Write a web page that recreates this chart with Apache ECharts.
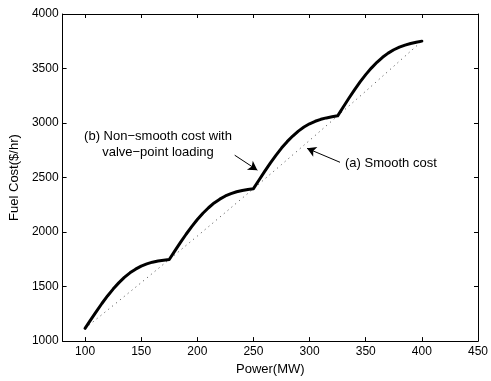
<!DOCTYPE html>
<html>
<head>
<meta charset="utf-8">
<script src="https://cdn.jsdelivr.net/npm/echarts@6/dist/echarts.min.js"></script>
<style>
html,body{margin:0;padding:0;background:#fff;}
#c{width:491px;height:381px;}
</style>
</head>
<body>
<div id="c"></div>
<script>
var xTicks = [100, 150, 200, 250, 300, 350, 400, 450];
var yTicks = [1000, 1500, 2000, 2500, 3000, 3500, 4000];

var powerNS = [100,105,110,115,120,125,130,135,140,145,150,155,160,165,170,175,180,185,190,195,200,205,210,215,220,225,230,235,240,245,250,255,260,265,270,275,280,285,290,295,300,305,310,315,320,325,330,335,340,345,350,355,360,365,370,375,380,385,390,395,400];
var costNS = [1117,1195,1271,1345,1414,1477,1534,1584,1626,1660,1688,1708,1724,1735,1742,1748,1828,1905,1980,2050,2115,2173,2223,2267,2302,2331,2353,2370,2382,2391,2398,2478,2557,2633,2704,2770,2829,2881,2926,2963,2993,3016,3034,3047,3057,3066,3147,3227,3304,3377,3444,3504,3557,3603,3641,3672,3696,3715,3730,3741,3751];

var powerS = [100,125,150,175,200,225,250,275,300,325,350,375,400];
var costS = [1117,1326,1536,1749,1963,2180,2398,2619,2841,3066,3292,3521,3751];

var arrowB = [[233.3, 2705], [253.5, 2568]];
var arrowA = [[327.1, 2640], [297.7, 2768]];

var FONT = '"Liberation Sans", Arial, Helvetica, sans-serif';

function pairs(xs, ys) { return xs.map(function (x, i) { return [x, ys[i]]; }); }
function plain(v) { return String(v); }

var chart = echarts.init(document.getElementById('c'), null, {renderer: 'canvas'});

var axisCommon = {
  type: 'value',
  axisLine: {show: true, onZero: false, lineStyle: {color: '#000', width: 1}},
  splitLine: {show: false}
};

chart.setOption({
  animation: false,
  backgroundColor: '#fff',
  textStyle: {fontFamily: FONT},
  grid: {left: 61, right: 9, top: 14, bottom: 34, containLabel: false},
  xAxis: [
    Object.assign({}, axisCommon, {
      min: 80, max: 450, position: 'bottom',
      name: 'Power(MW)', nameLocation: 'middle', nameGap: 21,
      nameTextStyle: {fontSize: 13, color: '#000', fontFamily: FONT},
      axisTick: {show: true, inside: true, length: 4, customValues: xTicks, lineStyle: {color: '#000'}},
      axisLabel: {show: true, customValues: xTicks, formatter: plain, margin: 5, fontSize: 12, color: '#000', fontFamily: FONT}
    }),
    Object.assign({}, axisCommon, {
      min: 80, max: 450, position: 'top',
      axisTick: {show: true, inside: true, length: 4, customValues: xTicks, lineStyle: {color: '#000'}},
      axisLabel: {show: false, customValues: xTicks}
    })
  ],
  yAxis: [
    Object.assign({}, axisCommon, {
      min: 1000, max: 4000, interval: 500, position: 'left',
      name: 'Fuel Cost($/hr)', nameLocation: 'middle', nameGap: 39,
      nameTextStyle: {fontSize: 13, color: '#000', fontFamily: FONT},
      axisTick: {show: true, inside: true, length: 4, customValues: yTicks, lineStyle: {color: '#000'}},
      axisLabel: {show: true, customValues: yTicks, formatter: plain, margin: 4, fontSize: 12, color: '#000', fontFamily: FONT}
    }),
    Object.assign({}, axisCommon, {
      min: 1000, max: 4000, interval: 500, position: 'right',
      axisTick: {show: true, inside: true, length: 4, customValues: yTicks, lineStyle: {color: '#000'}},
      axisLabel: {show: false, customValues: yTicks}
    })
  ],
  series: [
    {
      type: 'line',
      data: pairs(powerS, costS),
      showSymbol: false,
      symbol: 'none',
      lineStyle: {color: '#444', width: 1, type: [1, 4]},
      z: 2,
      silent: true
    },
    {
      type: 'line',
      data: pairs(powerNS, costNS),
      showSymbol: false,
      symbol: 'none',
      lineStyle: {color: '#000', width: 3, join: 'round', cap: 'round'},
      z: 3,
      silent: true,
      markLine: {
        silent: true,
        symbol: ['none', 'arrow'],
        symbolSize: [8, 9],
        label: {show: false},
        lineStyle: {color: '#000', width: 1, type: 'solid'},
        data: [
          [{coord: arrowB[0]}, {coord: arrowB[1]}],
          [{coord: arrowA[0]}, {coord: arrowA[1]}]
        ]
      }
    }
  ],
  graphic: [
    {
      type: 'text', x: 158, y: 129,
      style: {
        text: '(b) Non\u2212smooth cost with\nvalve\u2212point loading',
        fill: '#000', font: '13px ' + FONT, align: 'center', verticalAlign: 'top', lineHeight: 15.6
      }
    },
    {
      type: 'text', x: 345, y: 157,
      style: {text: '(a) Smooth cost', fill: '#000', font: '13px ' + FONT, verticalAlign: 'top'}
    }
  ]
});
</script>
</body>
</html>
